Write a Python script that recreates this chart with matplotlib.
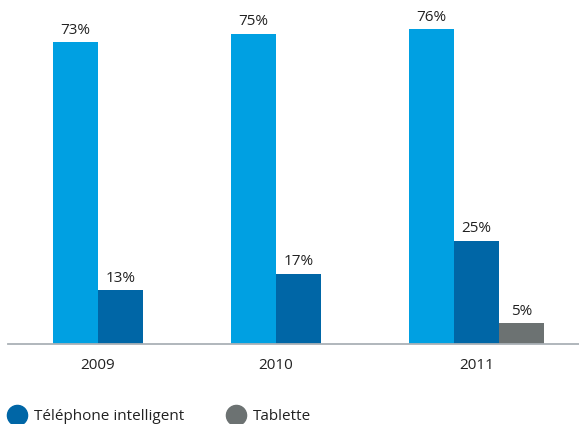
import numpy as np
import matplotlib.pyplot as plt
from matplotlib.lines import Line2D

plt.rcParams["font.family"] = ["Open Sans", "DejaVu Sans"]

years = ["2009", "2010", "2011"]
cellulaire = [73, 75, 76]
intelligent = [13, 17, 25]
tablette = [None, None, 5]

series_names = ["Téléphone cellulaire", "Téléphone intelligent", "Tablette"]
colors = ["#00a0e2", "#0066a6", "#6c7272"]


def main():
    fig = plt.figure(figsize=(5.79, 4.24), dpi=100)
    W, H = 579, 424
    ax = fig.add_axes([8 / W, (H - 344) / H, 1 - 8 / W, 344 / H])

    x = np.arange(len(years))
    w = 45 / 178
    offsets = [-w / 2, w / 2, 3 * w / 2]
    all_series = [cellulaire, intelligent, tablette]

    for vals, off, col in zip(all_series, offsets, colors):
        for xi, v in zip(x, vals):
            if v is None:
                continue
            ax.bar(xi + off, v, width=w, color=col, linewidth=0)
            ax.annotate(f"{v}%", (xi + off, v), xytext=(0, 3),
                        textcoords="offset points", ha="center", va="bottom",
                        fontsize=11, color="#222222")

    # year labels centred under the bars present in each group
    centers = []
    for i in range(len(years)):
        pos = [x[i] + off for vals, off in zip(all_series, offsets) if vals[i] is not None]
        centers.append(np.mean(pos))
    ax.set_xticks(centers)
    ax.set_xticklabels(years, fontsize=11, color="#222222")
    ax.tick_params(axis="x", length=0, pad=10)
    ax.set_yticks([])

    ax.set_xlim((8 - 98) / 178, (579 - 98) / 178)
    ax.set_ylim(0, 344 / 4.14)
    for s in ["top", "right", "left"]:
        ax.spines[s].set_visible(False)
    ax.spines["bottom"].set_color("#aab1b6")
    ax.spines["bottom"].set_linewidth(1.3)

    # legend entries along the bottom edge
    for name, col, cx in [(series_names[1], colors[1], 17), (series_names[2], colors[2], 236)]:
        fig.add_artist(Line2D([cx / W], [(H - 415) / H], marker="o", markersize=14.5,
                              color=col, linestyle="none", transform=fig.transFigure))
        fig.text((cx + 17) / W, (H - 420) / H, name, fontsize=11, color="#222222",
                 va="baseline", ha="left")

    fig.savefig("out.png", dpi=100)


if __name__ == "__main__":
    main()
